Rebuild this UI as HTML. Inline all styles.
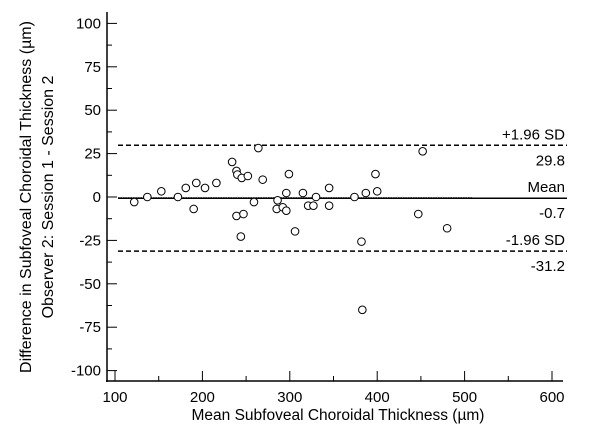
<!DOCTYPE html>
<html><head><meta charset="utf-8"><style>
body{margin:0;background:#fff}
svg{display:block;font-family:"Liberation Sans",Arial,sans-serif}
</style></head><body>
<svg id="chart" width="600" height="439">
<g id="axes"></g><g id="marks"></g>
</svg>
<script>
const xTicks=[100,200,300,400,500,600];
const yTicks=[100,75,50,25,0,-25,-50,-75,-100];
const meanVals=[122,137,153,172,181,190,193,203,216,234,239,240,245,239,247,252,244,259,264,269,286,285,292,296,296,299,306,315,321,327,330,345,345,374,382,387,398,400,447,452,480,383];
const diffVals=[-2.9,0,3.3,0,5.2,-6.9,8.1,5.2,8.1,20.2,15,12.9,11,-10.9,-9.8,12.1,-22.8,-2.9,28.2,10,-1.9,-6.9,-5.9,-7.9,2.3,13.2,-19.8,2.3,-5,-5,0,5.2,-5,0,-25.7,2.3,13.2,3.3,-9.8,26.3,-18,-65];
const refValues=[29.8,-0.7,-31.2];
const refNames=["+1.96 SD","Mean","-1.96 SD"];
const refLabels=["29.8","-0.7","-31.2"];
const NS="http://www.w3.org/2000/svg";
const X=v=>115+(v-100)*0.874, Y=v=>197-v*1.736;
const axes=document.getElementById('axes'), marks=document.getElementById('marks');
function mk(p,tag,at,txt){const e=document.createElementNS(NS,tag);for(const k in at)e.setAttribute(k,at[k]);if(txt!=null)e.textContent=txt;p.appendChild(e);return e;}
let e;
e=mk(axes,'line',{x1:107,y1:12,x2:107,y2:382,stroke:'#000','stroke-width':1.5});

e=mk(axes,'line',{x1:106,y1:381,x2:563,y2:381,stroke:'#000','stroke-width':1.5});

yTicks.forEach(t=>{
 mk(axes,'line',{x1:107,y1:Y(t),x2:117,y2:Y(t),stroke:'#000'});
 if(t>-100) mk(axes,'line',{x1:107,y1:Y(t-12.5),x2:112,y2:Y(t-12.5),stroke:'#000'});
 e=mk(axes,'text',{x:101,y:Y(t)+5,'text-anchor':'end','font-size':15},t);
 
});
xTicks.forEach(t=>{
 mk(axes,'line',{x1:X(t),y1:381,x2:X(t),y2:371,stroke:'#000'});
 if(t<600) mk(axes,'line',{x1:X(t+50),y1:381,x2:X(t+50),y2:376,stroke:'#000'});
 e=mk(axes,'text',{x:X(t),y:402,'text-anchor':'middle','font-size':15},t);
 
});
e=mk(axes,'text',{x:338,y:420,'text-anchor':'middle','font-size':15.5},'Mean Subfoveal Choroidal Thickness (\u00b5m)');

e=mk(axes,'text',{x:0,y:0,'text-anchor':'middle','font-size':16,transform:'translate(31,197) rotate(-90)'},'Difference in Subfoveal Choroidal Thickness (\u00b5m)');

e=mk(axes,'text',{x:0,y:0,'text-anchor':'middle','font-size':16,transform:'translate(53,197) rotate(-90)'},'Observer 2: Session 1 - Session 2');

e=mk(marks,'line',{x1:118,y1:Y(-0.4),x2:473,y2:Y(-0.4),stroke:'#777','stroke-width':1.5,'stroke-dasharray':'1.5 1'});

refValues.forEach((v,i)=>{
 const y=Y(v);
 e=mk(marks,'line',{x1:118,y1:y,x2:567,y2:y,stroke:'#000','stroke-width':1.5,'stroke-dasharray':i==1?'none':'5 3'});
 
 e=mk(marks,'text',{x:565,y:y-6,'text-anchor':'end','font-size':15},refNames[i]);
 
 e=mk(marks,'text',{x:565,y:y+20,'text-anchor':'end','font-size':15},refLabels[i]);
 
});
meanVals.forEach((m,i)=>{
 e=mk(marks,'circle',{cx:X(m),cy:Y(diffVals[i]),r:3.8,fill:'#fff',stroke:'#000','stroke-width':1});
 
});
</script>
</body></html>
